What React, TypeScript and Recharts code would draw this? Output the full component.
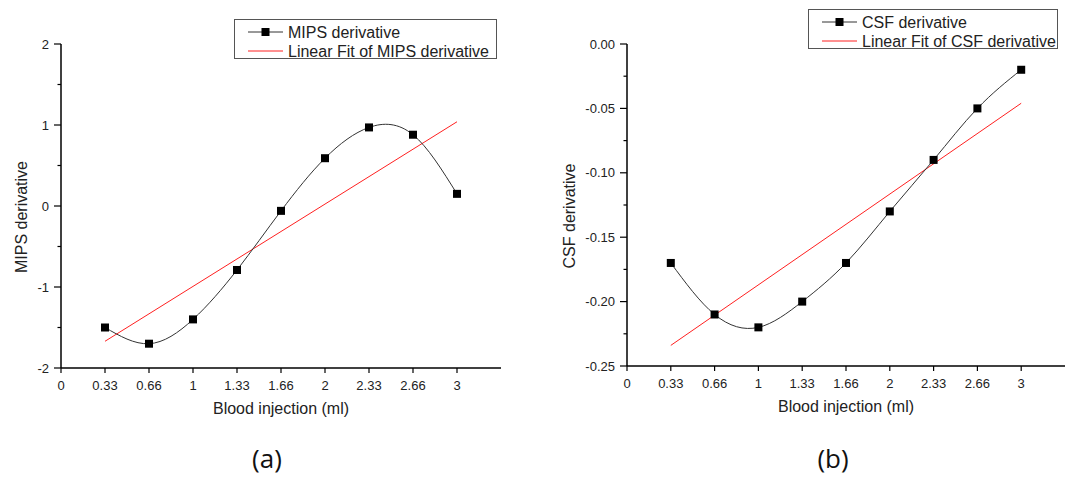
import React from 'react';
import { LineChart, Line, XAxis, YAxis } from 'recharts';

// x positions are evenly spaced steps, labelled like the original
const xLabels = ['0', '0.33', '0.66', '1', '1.33', '1.66', '2', '2.33', '2.66', '3'];
const xSteps = [1, 2, 3, 4, 5, 6, 7, 8, 9];

const mipsValues = [-1.5, -1.7, -1.4, -0.79, -0.06, 0.59, 0.97, 0.88, 0.15];
const mipsFitEnds = [-1.67, 1.04];

const csfValues = [-0.17, -0.21, -0.22, -0.2, -0.17, -0.13, -0.09, -0.05, -0.02];
const csfFitEnds = [-0.234, -0.046];

const mipsTicks = [-2, -1.5, -1, -0.5, 0, 0.5, 1, 1.5, 2];
const mipsMajor = [-2, -1, 0, 1, 2];
const csfTicks = [-0.25, -0.225, -0.2, -0.175, -0.15, -0.125, -0.1, -0.075, -0.05, -0.025, 0];
const csfMajor = [-0.25, -0.2, -0.15, -0.1, -0.05, 0];

const FONT = '"Liberation Sans", Arial, sans-serif';

const XTick = (props: any) => {
  const { x, y, payload } = props;
  return (
    <g>
      <line x1={x} x2={x} y1={y} y2={y + 5} stroke="#000" strokeWidth={1.2} />
      <text x={x} y={y + 22} textAnchor="middle" fontSize={13} fontFamily={FONT} fill="#222">
        {xLabels[payload.value]}
      </text>
    </g>
  );
};

const makeYTick = (majors: number[], fmt: (v: number) => string) => (props: any) => {
  const { x, y, payload } = props;
  const major = majors.some((m) => Math.abs(m - payload.value) < 1e-9);
  return (
    <g>
      <line x1={x - (major ? 7 : 3.5)} x2={x} y1={y} y2={y} stroke="#000" strokeWidth={1.2} />
      {major && (
        <text x={x - 12} y={y} dy="0.35em" textAnchor="end" fontSize={13} fontFamily={FONT} fill="#222">
          {fmt(payload.value)}
        </text>
      )}
    </g>
  );
};

const squareDot = (p: any) => (
  <rect key={p.index} x={p.cx - 4} y={p.cy - 4} width={8} height={8} fill="#000" />
);

const xTitle = (text: string) => (p: any) => {
  const vb = p.viewBox;
  return (
    <text x={vb.x + vb.width / 2} y={vb.y + 46} textAnchor="middle" fontSize={16} fontFamily={FONT} fill="#222">
      {text}
    </text>
  );
};

const yTitle = (text: string, cx: number) => (p: any) => {
  const vb = p.viewBox;
  const cy = vb.y + vb.height / 2 + 11;
  return (
    <text
      x={cx}
      y={cy}
      dy="0.35em"
      transform={`rotate(-90, ${cx}, ${cy})`}
      textAnchor="middle"
      fontSize={16}
      fontFamily={FONT}
      fill="#222"
    >
      {text}
    </text>
  );
};

function LegendBox({ left, top, width, name, fit }: any) {
  return (
    <div
      style={{
        position: 'absolute',
        left,
        top,
        width,
        height: 40,
        border: '1px solid #555',
        boxSizing: 'border-box',
        fontFamily: FONT,
        fontSize: 16,
        color: '#222',
        background: '#fff',
      }}
    >
      <svg width={width} height={40} style={{ position: 'absolute', left: 0, top: 0 }}>
        <line x1={13} x2={48} y1={12} y2={12} stroke="#333" strokeWidth={1} />
        <rect x={26.5} y={8} width={8} height={8} fill="#000" />
        <line x1={13} x2={48} y1={31} y2={31} stroke="#ff2020" strokeWidth={1} />
        <text x={53} y={12} dy="0.35em" fontSize={16} fontFamily={FONT} fill="#222">{name}</text>
        <text x={53} y={31} dy="0.35em" fontSize={16} fontFamily={FONT} fill="#222">{fit}</text>
      </svg>
    </div>
  );
}

function Panel(props: any) {
  const { values, fitEnds, ticks, majors, domain, fmt, yWidth, yLabel, yLabelX, width, right, label } = props;
  const rows = values.map((v: number, i: number) => ({ idx: xSteps[i], value: v }));
  const fitRows = [
    { idx: xSteps[0], fit: fitEnds[0] },
    { idx: xSteps[xSteps.length - 1], fit: fitEnds[1] },
  ];
  return (
    <LineChart width={width} height={430} data={rows} margin={{ top: 44, right, bottom: props.bottom, left: 0 }}>
      <XAxis
        type="number"
        dataKey="idx"
        domain={[0, 10]}
        ticks={[0, 1, 2, 3, 4, 5, 6, 7, 8, 9]}
        interval={0}
        tickSize={0}
        tickMargin={0}
        tickLine={false}
        tick={<XTick />}
        height={60}
        axisLine={{ stroke: '#000', strokeWidth: 1.5 }}
        label={xTitle('Blood injection (ml)')}
      />
      <YAxis
        type="number"
        domain={domain}
        ticks={ticks}
        interval={0}
        tickSize={0}
        tickMargin={0}
        tickLine={false}
        tick={makeYTick(majors, fmt)}
        width={yWidth}
        axisLine={{ stroke: '#000', strokeWidth: 1.5 }}
        label={yTitle(yLabel, yLabelX)}
      />
      <Line
        data={fitRows}
        dataKey="fit"
        type="linear"
        stroke="#ff2020"
        strokeWidth={1}
        dot={false}
        activeDot={false}
        isAnimationActive={false}
      />
      <Line
        dataKey="value"
        type="natural"
        stroke="#333"
        strokeWidth={1}
        dot={squareDot}
        activeDot={false}
        isAnimationActive={false}
      />
    </LineChart>
  );
}

export default function App() {
  return (
    <div
      style={{
        position: 'absolute',
        left: 0,
        top: 0,
        width: 1072,
        height: 479,
        background: '#fff',
        overflow: 'hidden',
      }}
    >
      <div style={{ position: 'absolute', left: 0, top: 0 }}>
        <Panel
          values={mipsValues}
          fitEnds={mipsFitEnds}
          ticks={mipsTicks}
          majors={mipsMajor}
          domain={[-2, 2]}
          fmt={(v: number) => String(v)}
          yWidth={61}
          yLabel="MIPS derivative"
          yLabelX={21}
          width={520}
          right={19}
          bottom={2}
        />
      </div>
      <div style={{ position: 'absolute', left: 540, top: 0 }}>
        <Panel
          values={csfValues}
          fitEnds={csfFitEnds}
          ticks={csfTicks}
          majors={csfMajor}
          domain={[-0.25, 0]}
          fmt={(v: number) => v.toFixed(2)}
          yWidth={87}
          yLabel="CSF derivative"
          yLabelX={29}
          width={532}
          right={7}
          bottom={4}
        />
      </div>
      <LegendBox left={234} top={19} width={263} name="MIPS derivative" fit="Linear Fit of MIPS derivative" />
      <LegendBox left={808} top={9} width={250} name="CSF derivative" fit="Linear Fit of CSF derivative" />
      <div
        style={{
          position: 'absolute',
          left: 217,
          width: 100,
          top: 440,
          textAlign: 'center',
          fontFamily: '"Open Sans", sans-serif',
          fontSize: 26,
          color: '#111',
        }}
      >
        (a)
      </div>
      <div
        style={{
          position: 'absolute',
          left: 783,
          width: 100,
          top: 440,
          textAlign: 'center',
          fontFamily: '"Open Sans", sans-serif',
          fontSize: 26,
          color: '#111',
        }}
      >
        (b)
      </div>
    </div>
  );
}
